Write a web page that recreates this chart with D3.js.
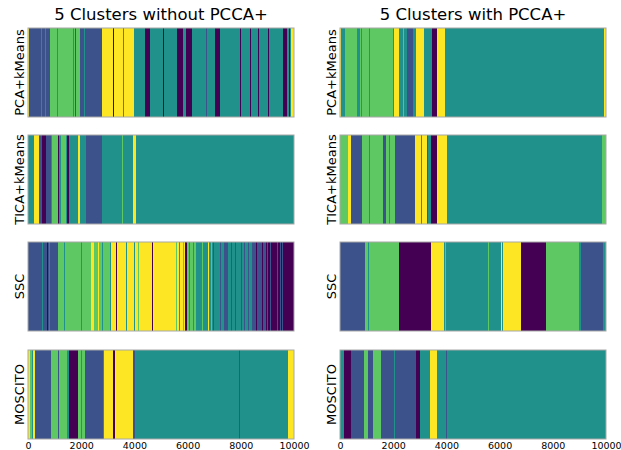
<!DOCTYPE html>
<html>
<head>
<meta charset="utf-8">
<script src="https://cdn.jsdelivr.net/npm/d3@7"></script>
<style>
  body { margin: 0; background: #fff; }
  text { font-family: "DejaVu Sans", sans-serif; }
</style>
</head>
<body>
<div id="chart"></div>
<script>
/* global d3 */

// segments are [start frame, cluster], each one runs to the next start
const pcaWithout = [[0,4],[40,1],[500,2],[530,1],[630,2],[660,1],[820,3],[1100,2],[1130,3],[1690,2],[1720,3],[1780,1],[1810,3],[1955,1],[2100,2],[2130,1],[2795,4],[3200,0],[3240,4],[3580,2],[3610,4],[3997,2],[4398,0],[4586,2],[5090,0],[5130,2],[5588,0],[5839,2],[5927,0],[6152,2],[6700,1],[6730,2],[7030,0],[7218,2],[7970,0],[8020,2],[8345,0],[8395,2],[8646,0],[8696,2],[9022,0],[9060,2],[9573,0],[9723,2],[9800,0],[9850,2],[9880,4]]
const pcaWith = [[0,4],[50,2],[190,3],[652,2],[752,3],[800,2],[830,3],[1080,2],[1130,3],[2005,2],[2042,4],[2218,2],[2356,3],[2420,2],[2506,1],[2620,2],[2650,1],[2757,2],[2857,4],[3158,2],[3446,0],[3646,4],[3947,2],[5825,3],[5845,2],[9937,4],[9987,2]]
const ticaWithout = [[0,2],[238,4],[426,1],[514,0],[664,1],[865,2],[915,3],[1115,0],[1178,2],[1228,3],[1428,2],[1479,0],[1554,2],[1892,4],[1955,2],[2168,1],[2769,2],[3533,3],[3560,2],[3960,4],[4047,2]]
const ticaWith = [[0,3],[313,4],[413,1],[840,3],[1103,2],[1128,3],[1629,1],[1729,3],[1850,2],[1870,3],[2067,1],[2819,4],[3045,2],[3083,4],[3258,1],[3300,2],[3408,0],[3634,4],[4035,2],[9837,3]]
const sscWithout = [[0,1],[530,2],[560,1],[720,0],[745,1],[790,2],[810,1],[850,0],[870,1],[1050,0],[1070,1],[1140,3],[1350,2],[1375,3],[1570,1],[1595,3],[1640,2],[1660,3],[2000,2],[2030,3],[2350,2],[2370,4],[2480,3],[2540,4],[2570,3],[2620,4],[2660,3],[2790,2],[2820,3],[3080,2],[3110,4],[3320,0],[3345,4],[3440,3],[3470,4],[3700,2],[3720,4],[4000,2],[4020,4],[4150,3],[4170,4],[4350,2],[4370,4],[4610,0],[4640,4],[4680,0],[4700,4],[5580,3],[5610,4],[5680,2],[5700,4],[5830,3],[5860,4],[5920,0],[5960,3],[6050,2],[6080,3],[6200,2],[6230,3],[6330,2],[6560,3],[6590,2],[6770,4],[6800,2],[6880,3],[6900,2],[6970,1],[6990,2],[7220,1],[7250,2],[7360,1],[7390,2],[7400,1],[7520,2],[7650,1],[7680,2],[7800,1],[7830,2],[8000,1],[8030,2],[8130,1],[8160,2],[8270,1],[8300,2],[8430,1],[8480,0],[8500,1],[8570,0],[8600,1],[8780,0],[8820,1],[8950,0],[8980,1],[9020,0],[9100,1],[9120,0],[9370,1],[9390,0],[9490,1],[9510,0],[9560,1],[9580,0]]
const sscWith = [[0,1],[940,3],[1040,2],[1080,3],[2218,0],[3421,4],[3922,2],[3960,3],[4000,2],[5560,3],[5590,2],[6040,4],[6103,2],[6140,4],[6190,3],[6220,4],[6804,0],[7731,3],[8984,2],[9047,1],[9899,2]]
const moscitoWithout = [[0,4],[75,3],[138,2],[175,4],[250,1],[852,3],[1140,1],[1165,3],[1454,2],[1554,0],[1867,3],[1992,2],[2030,3],[2143,1],[2807,2],[2857,4],[3183,0],[3270,4],[3960,1],[4022,2],[7932,1],[7957,2],[9786,4]]
const moscitoWith = [[0,2],[150,0],[413,1],[915,3],[1065,1],[1253,3],[1529,1],[2030,2],[2055,1],[2857,0],[3007,2],[3383,4],[3634,2],[3972,1],[4010,2]]

const methods = ['PCA+kMeans', 'TICA+kMeans', 'SSC', 'MOSCITO']
const titles = ['5 Clusters without PCCA+', '5 Clusters with PCCA+']
const panels = [
    [pcaWithout, pcaWith],
    [ticaWithout, ticaWith],
    [sscWithout, sscWith],
    [moscitoWithout, moscitoWith]
]
const nFrames = 10000
const xTicks = [0, 2000, 4000, 6000, 8000, 10000]
const clusterColors = ['#440154', '#3b528b', '#21918c', '#5ec962', '#fde725']

// canvas
const width = 621,
    height = 450
const colLeft = [28, 340],
    panelW = 266,
    rowTop = [28, 135, 242, 350],
    panelH = 89

let svg = d3.select('#chart')
    .append('svg')
    .attr('width', width)
    .attr('height', height)

const color = d3.scaleOrdinal().domain([0, 1, 2, 3, 4]).range(clusterColors)

panels.forEach((row, r) => {
    row.forEach((segs, c) => {
        const x = d3.scaleLinear()
            .domain([0, nFrames])
            .range([colLeft[c], colLeft[c] + panelW])

        // turn starts into [start, end, cluster]
        const spans = segs.map((s, i) => [s[0], i < segs.length - 1 ? segs[i + 1][0] : nFrames, s[1]])

        let g = svg.append('g')
        g.selectAll('rect')
            .data(spans)
            .enter()
            .append('rect')
            .attr('x', (d) => x(d[0]))
            .attr('y', rowTop[r])
            .attr('width', (d) => x(d[1]) - x(d[0]))
            .attr('height', panelH)
            .attr('fill', (d) => color(d[2]))
            .attr('shape-rendering', 'crispEdges')

        // frame
        g.append('rect')
            .attr('x', colLeft[c])
            .attr('y', rowTop[r])
            .attr('width', panelW)
            .attr('height', panelH)
            .attr('fill', 'none')
            .attr('stroke', '#a8a8a8')
            .attr('stroke-width', 1)

        // y label
        svg.append('text')
            .attr('transform', `translate(${colLeft[c] - 4},${rowTop[r] + panelH / 2}) rotate(-90)`)
            .attr('text-anchor', 'middle')
            .style('font-size', '13px')
            .text(methods[r])

        if (r === 0) {
            svg.append('text')
                .attr('x', colLeft[c] + panelW / 2)
                .attr('y', 20)
                .attr('text-anchor', 'middle')
                .style('font-size', '16.5px')
                .text(titles[c])
        }

        if (r === panels.length - 1) {
            let axis = svg.append('g')
                .attr('transform', `translate(0,${rowTop[r] + panelH})`)
                .call(d3.axisBottom(x).tickValues(xTicks).tickSize(0).tickPadding(3).tickFormat(d3.format('d')))
            axis.select('.domain').remove()
            axis.selectAll('text')
                .style('font-family', '"DejaVu Sans", sans-serif')
                .style('font-size', '9.5px')
                .attr('fill', '#000')
        }
    })
})
</script>
</body>
</html>
